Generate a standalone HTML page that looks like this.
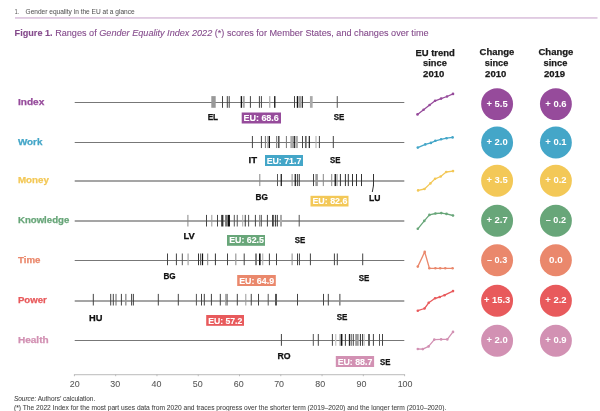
<!DOCTYPE html><html><head><meta charset="utf-8"><title>Gender Equality Index 2022</title><style>
html,body{margin:0;padding:0;background:#fff;width:600px;height:411px;overflow:hidden}
svg{display:block;font-family:"Liberation Sans", sans-serif;will-change:transform}
</style></head><body>
<svg width="600" height="411" viewBox="0 0 600 411">
<text x="14.74" y="14.30" font-size="6.6" stroke="#555" stroke-width="0.05" fill="#555" textLength="4.23" lengthAdjust="spacingAndGlyphs" >1.</text>
<text x="25.54" y="14.30" font-size="6.6" stroke="#555" stroke-width="0.05" fill="#555" textLength="109.13" lengthAdjust="spacingAndGlyphs" >Gender equality in the EU at a glance</text>
<rect x="15" y="17.35" width="582.5" height="1.2" fill="#cfaed2"/>
<text x="14.6" y="35.7" font-size="8.8" fill="#844a8b" stroke="#844a8b" stroke-width="0.1" textLength="414" lengthAdjust="spacingAndGlyphs"><tspan font-weight="bold">Figure 1.</tspan> Ranges of <tspan font-style="italic">Gender Equality Index 2022</tspan> (*) scores for Member States, and changes over time</text>
<text x="415.44" y="55.50" font-size="9.0" font-weight="bold" stroke="#1a1a1a" stroke-width="0.25" fill="#1a1a1a" textLength="39.42" lengthAdjust="spacingAndGlyphs" >EU trend</text>
<text x="423.14" y="66.00" font-size="9.0" font-weight="bold" stroke="#1a1a1a" stroke-width="0.25" fill="#1a1a1a" textLength="23.72" lengthAdjust="spacingAndGlyphs" >since</text>
<text x="423.14" y="76.50" font-size="9.0" font-weight="bold" stroke="#1a1a1a" stroke-width="0.25" fill="#1a1a1a" textLength="21.22" lengthAdjust="spacingAndGlyphs" >2010</text>
<text x="479.64" y="55.30" font-size="9.0" font-weight="bold" stroke="#1a1a1a" stroke-width="0.25" fill="#1a1a1a" textLength="34.72" lengthAdjust="spacingAndGlyphs" >Change</text>
<text x="484.84" y="66.00" font-size="9.0" font-weight="bold" stroke="#1a1a1a" stroke-width="0.25" fill="#1a1a1a" textLength="23.52" lengthAdjust="spacingAndGlyphs" >since</text>
<text x="485.14" y="76.70" font-size="9.0" font-weight="bold" stroke="#1a1a1a" stroke-width="0.25" fill="#1a1a1a" textLength="21.22" lengthAdjust="spacingAndGlyphs" >2010</text>
<text x="538.44" y="55.30" font-size="9.0" font-weight="bold" stroke="#1a1a1a" stroke-width="0.25" fill="#1a1a1a" textLength="34.92" lengthAdjust="spacingAndGlyphs" >Change</text>
<text x="543.64" y="66.00" font-size="9.0" font-weight="bold" stroke="#1a1a1a" stroke-width="0.25" fill="#1a1a1a" textLength="23.72" lengthAdjust="spacingAndGlyphs" >since</text>
<text x="543.94" y="76.70" font-size="9.0" font-weight="bold" stroke="#1a1a1a" stroke-width="0.25" fill="#1a1a1a" textLength="21.22" lengthAdjust="spacingAndGlyphs" >2019</text>
<text x="17.94" y="104.60" font-size="9.0" font-weight="bold" stroke="#964b9b" stroke-width="0.25" fill="#964b9b" textLength="26.42" lengthAdjust="spacingAndGlyphs" >Index</text>
<rect x="74.7" y="102.00" width="329.6" height="1" fill="#777777"/>
<rect x="211.30" y="96.10" width="4.40" height="11.70" fill="#999"/>
<rect x="222.00" y="96.10" width="1.00" height="11.70" fill="#444"/>
<rect x="226.80" y="96.10" width="1.00" height="11.70" fill="#444"/>
<rect x="228.70" y="96.10" width="1.00" height="11.70" fill="#444"/>
<rect x="240.70" y="96.10" width="1.40" height="11.70" fill="#111"/>
<rect x="243.15" y="96.10" width="1.50" height="11.70" fill="#999"/>
<rect x="249.90" y="96.10" width="1.00" height="11.70" fill="#444"/>
<rect x="258.90" y="96.10" width="1.00" height="11.70" fill="#444"/>
<rect x="260.90" y="96.10" width="1.00" height="11.70" fill="#444"/>
<rect x="269.15" y="96.10" width="1.20" height="11.70" fill="#aaa"/>
<rect x="274.05" y="96.10" width="1.40" height="11.70" fill="#222"/>
<rect x="294.00" y="96.10" width="1.00" height="11.70" fill="#444"/>
<rect x="296.80" y="96.10" width="1.20" height="11.70" fill="#111"/>
<rect x="298.30" y="96.10" width="3.40" height="11.70" fill="#a0a0a0"/>
<rect x="302.00" y="96.10" width="1.00" height="11.70" fill="#333"/>
<rect x="309.95" y="96.10" width="2.70" height="11.70" fill="#aaa"/>
<rect x="336.75" y="96.10" width="1.00" height="11.70" fill="#555"/>
<text x="207.64" y="119.80" font-size="9.0" font-weight="bold" stroke="#111" stroke-width="0.25" fill="#111" textLength="10.52" lengthAdjust="spacingAndGlyphs" >EL</text>
<text x="333.64" y="119.50" font-size="9.0" font-weight="bold" stroke="#111" stroke-width="0.25" fill="#111" textLength="10.62" lengthAdjust="spacingAndGlyphs" >SE</text>
<rect x="241.7" y="112.5" width="39.30" height="11.00" fill="#964b9b"/>
<text x="243.44" y="121.00" font-size="9.0" font-weight="bold" stroke="#fff" stroke-width="0.1" fill="#fff" textLength="35.42" lengthAdjust="spacingAndGlyphs" >EU: 68.6</text>
<polyline points="417.5,114.4 423.6,109.7 429.6,105.0 435.1,100.8 441.1,98.6 447.0,96.5 453.0,93.9" fill="none" stroke="#964b9b" stroke-width="1.3" stroke-linejoin="round" stroke-linecap="round"/>
<circle cx="417.5" cy="114.4" r="1.3" fill="#964b9b"/>
<circle cx="423.6" cy="109.7" r="1.3" fill="#964b9b"/>
<circle cx="429.6" cy="105.0" r="1.3" fill="#964b9b"/>
<circle cx="435.1" cy="100.8" r="1.3" fill="#964b9b"/>
<circle cx="441.1" cy="98.6" r="1.3" fill="#964b9b"/>
<circle cx="447.0" cy="96.5" r="1.3" fill="#964b9b"/>
<circle cx="453.0" cy="93.9" r="1.3" fill="#964b9b"/>
<circle cx="497.1" cy="104.1" r="15.95" fill="#964b9b"/>
<text x="486.45" y="106.60" font-size="8.8" font-weight="bold" fill="#fff" textLength="21.30" lengthAdjust="spacingAndGlyphs" >+ 5.5</text>
<circle cx="555.9" cy="104.1" r="15.95" fill="#964b9b"/>
<text x="545.25" y="106.60" font-size="8.8" font-weight="bold" fill="#fff" textLength="21.30" lengthAdjust="spacingAndGlyphs" >+ 0.6</text>
<text x="17.94" y="144.60" font-size="9.0" font-weight="bold" stroke="#44a6c8" stroke-width="0.25" fill="#44a6c8" textLength="24.52" lengthAdjust="spacingAndGlyphs" >Work</text>
<rect x="74.7" y="142.00" width="329.6" height="1" fill="#777777"/>
<rect x="251.90" y="136.00" width="1.00" height="12.05" fill="#444"/>
<rect x="260.90" y="136.00" width="1.00" height="12.05" fill="#444"/>
<rect x="264.90" y="136.00" width="1.00" height="12.05" fill="#777"/>
<rect x="266.95" y="136.00" width="1.30" height="12.05" fill="#bbb"/>
<rect x="268.65" y="136.00" width="1.30" height="12.05" fill="#111"/>
<rect x="276.00" y="136.00" width="1.00" height="12.05" fill="#888"/>
<rect x="277.85" y="136.00" width="1.70" height="12.05" fill="#555"/>
<rect x="285.90" y="136.00" width="1.00" height="12.05" fill="#777"/>
<rect x="290.35" y="136.00" width="2.90" height="12.05" fill="#aaa"/>
<rect x="293.65" y="136.00" width="1.20" height="12.05" fill="#111"/>
<rect x="295.30" y="136.00" width="2.60" height="12.05" fill="#aaa"/>
<rect x="302.00" y="136.00" width="1.00" height="12.05" fill="#444"/>
<rect x="304.95" y="136.00" width="1.70" height="12.05" fill="#666"/>
<rect x="308.75" y="136.00" width="1.10" height="12.05" fill="#111"/>
<rect x="315.50" y="136.00" width="1.00" height="12.05" fill="#aaa"/>
<rect x="318.90" y="136.00" width="1.00" height="12.05" fill="#444"/>
<rect x="332.80" y="136.00" width="1.00" height="12.05" fill="#444"/>
<text x="248.64" y="163.30" font-size="9.0" font-weight="bold" stroke="#111" stroke-width="0.25" fill="#111" textLength="8.52" lengthAdjust="spacingAndGlyphs" >IT</text>
<text x="329.94" y="163.00" font-size="9.0" font-weight="bold" stroke="#111" stroke-width="0.25" fill="#111" textLength="10.42" lengthAdjust="spacingAndGlyphs" >SE</text>
<rect x="265.0" y="155.0" width="38.00" height="11.00" fill="#44a6c8"/>
<text x="266.64" y="163.80" font-size="9.0" font-weight="bold" stroke="#fff" stroke-width="0.1" fill="#fff" textLength="34.72" lengthAdjust="spacingAndGlyphs" >EU: 71.7</text>
<polyline points="417.8,147.6 425.3,144.4 430.9,142.9 435.4,140.8 441.1,139.3 446.5,138.2 452.6,137.4" fill="none" stroke="#44a6c8" stroke-width="1.3" stroke-linejoin="round" stroke-linecap="round"/>
<circle cx="417.8" cy="147.6" r="1.3" fill="#44a6c8"/>
<circle cx="425.3" cy="144.4" r="1.3" fill="#44a6c8"/>
<circle cx="430.9" cy="142.9" r="1.3" fill="#44a6c8"/>
<circle cx="435.4" cy="140.8" r="1.3" fill="#44a6c8"/>
<circle cx="441.1" cy="139.3" r="1.3" fill="#44a6c8"/>
<circle cx="446.5" cy="138.2" r="1.3" fill="#44a6c8"/>
<circle cx="452.6" cy="137.4" r="1.3" fill="#44a6c8"/>
<circle cx="497.1" cy="142.5" r="15.95" fill="#44a6c8"/>
<text x="486.45" y="145.00" font-size="8.8" font-weight="bold" fill="#fff" textLength="21.30" lengthAdjust="spacingAndGlyphs" >+ 2.0</text>
<circle cx="555.9" cy="142.5" r="15.95" fill="#44a6c8"/>
<text x="545.25" y="145.00" font-size="8.8" font-weight="bold" fill="#fff" textLength="21.30" lengthAdjust="spacingAndGlyphs" >+ 0.1</text>
<text x="17.94" y="183.10" font-size="9.0" font-weight="bold" stroke="#f3c857" stroke-width="0.25" fill="#f3c857" textLength="30.92" lengthAdjust="spacingAndGlyphs" >Money</text>
<rect x="74.7" y="180.50" width="329.6" height="1" fill="#4d4d4d"/>
<rect x="259.30" y="174.00" width="1.00" height="12.05" fill="#888"/>
<rect x="277.00" y="174.00" width="1.00" height="12.05" fill="#555"/>
<rect x="280.65" y="174.00" width="1.20" height="12.05" fill="#111"/>
<rect x="291.60" y="174.00" width="1.00" height="12.05" fill="#888"/>
<rect x="294.65" y="174.00" width="1.20" height="12.05" fill="#111"/>
<rect x="296.90" y="174.00" width="1.00" height="12.05" fill="#444"/>
<rect x="298.75" y="174.00" width="1.00" height="12.05" fill="#333"/>
<rect x="313.00" y="174.00" width="1.00" height="12.05" fill="#444"/>
<rect x="315.35" y="174.00" width="2.50" height="12.05" fill="#999"/>
<rect x="322.80" y="174.00" width="1.00" height="12.05" fill="#888"/>
<rect x="331.20" y="174.00" width="1.00" height="12.05" fill="#888"/>
<rect x="334.60" y="174.00" width="1.30" height="12.05" fill="#111"/>
<rect x="336.50" y="174.00" width="1.00" height="12.05" fill="#888"/>
<rect x="339.90" y="174.00" width="1.00" height="12.05" fill="#333"/>
<rect x="344.90" y="174.00" width="1.00" height="12.05" fill="#333"/>
<rect x="347.80" y="174.00" width="1.00" height="12.05" fill="#333"/>
<rect x="352.00" y="174.00" width="1.00" height="12.05" fill="#333"/>
<rect x="356.00" y="174.00" width="1.00" height="12.05" fill="#333"/>
<rect x="361.00" y="174.00" width="1.00" height="12.05" fill="#333"/>
<rect x="373.00" y="174.00" width="1.00" height="12.05" fill="#333"/>
<text x="255.44" y="199.70" font-size="9.0" font-weight="bold" stroke="#111" stroke-width="0.25" fill="#111" textLength="12.42" lengthAdjust="spacingAndGlyphs" >BG</text>
<text x="368.94" y="200.90" font-size="9.0" font-weight="bold" stroke="#111" stroke-width="0.25" fill="#111" textLength="11.42" lengthAdjust="spacingAndGlyphs" >LU</text>
<rect x="310.5" y="195.8" width="38.00" height="10.70" fill="#f3c857"/>
<text x="312.44" y="204.00" font-size="9.0" font-weight="bold" stroke="#fff" stroke-width="0.1" fill="#fff" textLength="34.92" lengthAdjust="spacingAndGlyphs" >EU: 82.6</text>
<polyline points="418.1,190.4 424.5,189.0 430.4,183.4 435.1,178.8 440.7,176.5 446.2,172.0 453.0,171.1" fill="none" stroke="#f3c857" stroke-width="1.3" stroke-linejoin="round" stroke-linecap="round"/>
<circle cx="418.1" cy="190.4" r="1.3" fill="#f3c857"/>
<circle cx="424.5" cy="189.0" r="1.3" fill="#f3c857"/>
<circle cx="430.4" cy="183.4" r="1.3" fill="#f3c857"/>
<circle cx="435.1" cy="178.8" r="1.3" fill="#f3c857"/>
<circle cx="440.7" cy="176.5" r="1.3" fill="#f3c857"/>
<circle cx="446.2" cy="172.0" r="1.3" fill="#f3c857"/>
<circle cx="453.0" cy="171.1" r="1.3" fill="#f3c857"/>
<circle cx="497.1" cy="180.7" r="15.95" fill="#f3c857"/>
<text x="486.45" y="183.20" font-size="8.8" font-weight="bold" fill="#fff" textLength="21.30" lengthAdjust="spacingAndGlyphs" >+ 3.5</text>
<circle cx="555.9" cy="180.7" r="15.95" fill="#f3c857"/>
<text x="545.25" y="183.20" font-size="8.8" font-weight="bold" fill="#fff" textLength="21.30" lengthAdjust="spacingAndGlyphs" >+ 0.2</text>
<text x="17.94" y="222.90" font-size="9.0" font-weight="bold" stroke="#68a679" stroke-width="0.25" fill="#68a679" textLength="51.32" lengthAdjust="spacingAndGlyphs" >Knowledge</text>
<rect x="74.7" y="220.50" width="329.6" height="1" fill="#4d4d4d"/>
<rect x="187.40" y="214.90" width="1.00" height="11.60" fill="#888"/>
<rect x="206.00" y="214.90" width="1.00" height="11.60" fill="#444"/>
<rect x="211.30" y="214.90" width="1.00" height="11.60" fill="#999"/>
<rect x="217.00" y="214.90" width="1.00" height="11.60" fill="#444"/>
<rect x="221.20" y="214.90" width="2.20" height="11.60" fill="#333"/>
<rect x="225.10" y="214.90" width="2.60" height="11.60" fill="#777"/>
<rect x="227.85" y="214.90" width="2.10" height="11.60" fill="#111"/>
<rect x="233.80" y="214.90" width="1.00" height="11.60" fill="#555"/>
<rect x="236.75" y="214.90" width="1.00" height="11.60" fill="#555"/>
<rect x="242.20" y="214.90" width="1.00" height="11.60" fill="#aaa"/>
<rect x="244.75" y="214.90" width="1.00" height="11.60" fill="#333"/>
<rect x="248.10" y="214.90" width="1.00" height="11.60" fill="#555"/>
<rect x="254.90" y="214.90" width="1.00" height="11.60" fill="#444"/>
<rect x="259.10" y="214.90" width="1.00" height="11.60" fill="#888"/>
<rect x="260.75" y="214.90" width="1.00" height="11.60" fill="#444"/>
<rect x="266.90" y="214.90" width="1.00" height="11.60" fill="#444"/>
<rect x="272.00" y="214.90" width="1.80" height="11.60" fill="#444"/>
<rect x="274.90" y="214.90" width="1.00" height="11.60" fill="#333"/>
<rect x="276.80" y="214.90" width="1.00" height="11.60" fill="#333"/>
<rect x="280.00" y="214.90" width="2.00" height="11.60" fill="#aaa"/>
<rect x="298.70" y="214.90" width="1.00" height="11.60" fill="#555"/>
<text x="183.64" y="238.70" font-size="9.0" font-weight="bold" stroke="#111" stroke-width="0.25" fill="#111" textLength="11.22" lengthAdjust="spacingAndGlyphs" >LV</text>
<text x="294.84" y="242.90" font-size="9.0" font-weight="bold" stroke="#111" stroke-width="0.25" fill="#111" textLength="10.52" lengthAdjust="spacingAndGlyphs" >SE</text>
<rect x="227.0" y="235.0" width="38.00" height="10.80" fill="#68a679"/>
<text x="229.14" y="242.80" font-size="9.0" font-weight="bold" stroke="#fff" stroke-width="0.1" fill="#fff" textLength="34.82" lengthAdjust="spacingAndGlyphs" >EU: 62.5</text>
<polyline points="417.8,228.8 424.3,220.9 429.4,214.9 435.4,213.5 441.3,213.1 446.5,213.9 453.0,215.5" fill="none" stroke="#68a679" stroke-width="1.3" stroke-linejoin="round" stroke-linecap="round"/>
<circle cx="417.8" cy="228.8" r="1.3" fill="#68a679"/>
<circle cx="424.3" cy="220.9" r="1.3" fill="#68a679"/>
<circle cx="429.4" cy="214.9" r="1.3" fill="#68a679"/>
<circle cx="435.4" cy="213.5" r="1.3" fill="#68a679"/>
<circle cx="441.3" cy="213.1" r="1.3" fill="#68a679"/>
<circle cx="446.5" cy="213.9" r="1.3" fill="#68a679"/>
<circle cx="453.0" cy="215.5" r="1.3" fill="#68a679"/>
<circle cx="497.1" cy="220.7" r="15.95" fill="#68a679"/>
<text x="486.45" y="223.20" font-size="8.8" font-weight="bold" fill="#fff" textLength="21.30" lengthAdjust="spacingAndGlyphs" >+ 2.7</text>
<circle cx="555.9" cy="220.7" r="15.95" fill="#68a679"/>
<text x="545.80" y="223.20" font-size="8.8" font-weight="bold" fill="#fff" textLength="20.20" lengthAdjust="spacingAndGlyphs" >– 0.2</text>
<text x="17.94" y="262.60" font-size="9.0" font-weight="bold" stroke="#ea886c" stroke-width="0.25" fill="#ea886c" textLength="22.52" lengthAdjust="spacingAndGlyphs" >Time</text>
<rect x="74.7" y="260.00" width="329.6" height="1" fill="#777777"/>
<rect x="167.00" y="253.50" width="1.00" height="11.70" fill="#444"/>
<rect x="175.90" y="253.50" width="1.00" height="11.70" fill="#444"/>
<rect x="181.80" y="253.50" width="1.00" height="11.70" fill="#555"/>
<rect x="187.45" y="253.50" width="1.30" height="11.70" fill="#aaa"/>
<rect x="198.00" y="253.50" width="1.00" height="11.70" fill="#333"/>
<rect x="200.10" y="253.50" width="1.00" height="11.70" fill="#555"/>
<rect x="201.90" y="253.50" width="1.20" height="11.70" fill="#111"/>
<rect x="207.20" y="253.50" width="1.00" height="11.70" fill="#888"/>
<rect x="214.90" y="253.50" width="1.00" height="11.70" fill="#333"/>
<rect x="227.00" y="253.50" width="1.00" height="11.70" fill="#444"/>
<rect x="235.20" y="253.50" width="1.20" height="11.70" fill="#999"/>
<rect x="243.70" y="253.50" width="1.00" height="11.70" fill="#444"/>
<rect x="255.20" y="253.50" width="1.60" height="11.70" fill="#666"/>
<rect x="259.00" y="253.50" width="1.60" height="11.70" fill="#111"/>
<rect x="262.25" y="253.50" width="1.00" height="11.70" fill="#aaa"/>
<rect x="268.90" y="253.50" width="1.00" height="11.70" fill="#444"/>
<rect x="276.00" y="253.50" width="1.00" height="11.70" fill="#444"/>
<rect x="291.60" y="253.50" width="1.00" height="11.70" fill="#888"/>
<rect x="297.00" y="253.50" width="1.00" height="11.70" fill="#444"/>
<rect x="298.90" y="253.50" width="1.00" height="11.70" fill="#444"/>
<rect x="309.90" y="253.50" width="1.00" height="11.70" fill="#444"/>
<rect x="333.90" y="253.50" width="1.00" height="11.70" fill="#444"/>
<rect x="336.80" y="253.50" width="1.00" height="11.70" fill="#444"/>
<rect x="362.20" y="253.50" width="1.00" height="11.70" fill="#444"/>
<text x="163.44" y="278.80" font-size="9.0" font-weight="bold" stroke="#111" stroke-width="0.25" fill="#111" textLength="12.22" lengthAdjust="spacingAndGlyphs" >BG</text>
<text x="358.64" y="281.00" font-size="9.0" font-weight="bold" stroke="#111" stroke-width="0.25" fill="#111" textLength="10.62" lengthAdjust="spacingAndGlyphs" >SE</text>
<rect x="237.2" y="275.0" width="38.60" height="11.00" fill="#ea886c"/>
<text x="239.14" y="283.50" font-size="9.0" font-weight="bold" stroke="#fff" stroke-width="0.1" fill="#fff" textLength="35.02" lengthAdjust="spacingAndGlyphs" >EU: 64.9</text>
<polyline points="417.8,266.6 424.7,251.9 429.4,268.3 435.4,268.3 440.2,268.3 445.3,268.3 452.6,268.3" fill="none" stroke="#ea886c" stroke-width="1.3" stroke-linejoin="round" stroke-linecap="round"/>
<circle cx="417.8" cy="266.6" r="1.3" fill="#ea886c"/>
<circle cx="424.7" cy="251.9" r="1.3" fill="#ea886c"/>
<circle cx="429.4" cy="268.3" r="1.3" fill="#ea886c"/>
<circle cx="435.4" cy="268.3" r="1.3" fill="#ea886c"/>
<circle cx="440.2" cy="268.3" r="1.3" fill="#ea886c"/>
<circle cx="445.3" cy="268.3" r="1.3" fill="#ea886c"/>
<circle cx="452.6" cy="268.3" r="1.3" fill="#ea886c"/>
<circle cx="497.1" cy="260.2" r="15.95" fill="#ea886c"/>
<text x="487.00" y="262.70" font-size="8.8" font-weight="bold" fill="#fff" textLength="20.20" lengthAdjust="spacingAndGlyphs" >– 0.3</text>
<circle cx="555.9" cy="260.2" r="15.95" fill="#ea886c"/>
<text x="549.05" y="262.70" font-size="8.8" font-weight="bold" fill="#fff" textLength="13.70" lengthAdjust="spacingAndGlyphs" >0.0</text>
<text x="17.94" y="303.00" font-size="9.0" font-weight="bold" stroke="#e85a5c" stroke-width="0.25" fill="#e85a5c" textLength="28.82" lengthAdjust="spacingAndGlyphs" >Power</text>
<rect x="74.7" y="300.50" width="329.6" height="1" fill="#4d4d4d"/>
<rect x="92.80" y="293.90" width="1.00" height="11.60" fill="#444"/>
<rect x="110.20" y="293.90" width="1.00" height="11.60" fill="#444"/>
<rect x="112.80" y="293.90" width="1.00" height="11.60" fill="#444"/>
<rect x="115.50" y="293.90" width="1.00" height="11.60" fill="#666"/>
<rect x="120.90" y="293.90" width="1.00" height="11.60" fill="#444"/>
<rect x="125.05" y="293.90" width="1.50" height="11.60" fill="#999"/>
<rect x="131.00" y="293.90" width="1.00" height="11.60" fill="#555"/>
<rect x="132.80" y="293.90" width="1.00" height="11.60" fill="#333"/>
<rect x="157.80" y="293.90" width="1.00" height="11.60" fill="#444"/>
<rect x="177.80" y="293.90" width="1.00" height="11.60" fill="#444"/>
<rect x="195.90" y="293.90" width="1.00" height="11.60" fill="#555"/>
<rect x="201.00" y="293.90" width="1.00" height="11.60" fill="#444"/>
<rect x="203.80" y="293.90" width="1.00" height="11.60" fill="#444"/>
<rect x="210.90" y="293.90" width="1.00" height="11.60" fill="#444"/>
<rect x="219.80" y="293.90" width="1.00" height="11.60" fill="#444"/>
<rect x="225.20" y="293.90" width="1.20" height="11.60" fill="#999"/>
<rect x="226.60" y="293.90" width="1.00" height="11.60" fill="#555"/>
<rect x="236.80" y="293.90" width="1.00" height="11.60" fill="#444"/>
<rect x="245.30" y="293.90" width="1.00" height="11.60" fill="#999"/>
<rect x="250.75" y="293.90" width="1.00" height="11.60" fill="#444"/>
<rect x="258.00" y="293.90" width="1.00" height="11.60" fill="#444"/>
<rect x="267.70" y="293.90" width="1.00" height="11.60" fill="#555"/>
<rect x="275.00" y="293.90" width="2.00" height="11.60" fill="#555"/>
<rect x="297.00" y="293.90" width="1.00" height="11.60" fill="#444"/>
<rect x="323.00" y="293.90" width="1.00" height="11.60" fill="#444"/>
<rect x="327.80" y="293.90" width="1.00" height="11.60" fill="#444"/>
<rect x="339.00" y="293.90" width="1.60" height="11.60" fill="#888"/>
<text x="88.94" y="320.90" font-size="9.0" font-weight="bold" stroke="#111" stroke-width="0.25" fill="#111" textLength="13.42" lengthAdjust="spacingAndGlyphs" >HU</text>
<text x="336.64" y="319.70" font-size="9.0" font-weight="bold" stroke="#111" stroke-width="0.25" fill="#111" textLength="10.72" lengthAdjust="spacingAndGlyphs" >SE</text>
<rect x="206.2" y="315.0" width="37.80" height="10.80" fill="#e85a5c"/>
<text x="208.14" y="323.50" font-size="9.0" font-weight="bold" stroke="#fff" stroke-width="0.1" fill="#fff" textLength="34.22" lengthAdjust="spacingAndGlyphs" >EU: 57.2</text>
<polyline points="417.8,310.7 424.5,308.5 428.7,302.8 435.1,298.3 439.8,297.0 444.5,295.2 453.0,291.1" fill="none" stroke="#e85a5c" stroke-width="1.3" stroke-linejoin="round" stroke-linecap="round"/>
<circle cx="417.8" cy="310.7" r="1.3" fill="#e85a5c"/>
<circle cx="424.5" cy="308.5" r="1.3" fill="#e85a5c"/>
<circle cx="428.7" cy="302.8" r="1.3" fill="#e85a5c"/>
<circle cx="435.1" cy="298.3" r="1.3" fill="#e85a5c"/>
<circle cx="439.8" cy="297.0" r="1.3" fill="#e85a5c"/>
<circle cx="444.5" cy="295.2" r="1.3" fill="#e85a5c"/>
<circle cx="453.0" cy="291.1" r="1.3" fill="#e85a5c"/>
<circle cx="497.1" cy="300.7" r="15.95" fill="#e85a5c"/>
<text x="483.90" y="303.20" font-size="8.8" font-weight="bold" fill="#fff" textLength="26.40" lengthAdjust="spacingAndGlyphs" >+ 15.3</text>
<circle cx="555.9" cy="300.7" r="15.95" fill="#e85a5c"/>
<text x="545.25" y="303.20" font-size="8.8" font-weight="bold" fill="#fff" textLength="21.30" lengthAdjust="spacingAndGlyphs" >+ 2.2</text>
<text x="17.94" y="342.75" font-size="9.0" font-weight="bold" stroke="#d291b3" stroke-width="0.25" fill="#d291b3" textLength="30.72" lengthAdjust="spacingAndGlyphs" >Health</text>
<rect x="74.7" y="340.00" width="329.6" height="1" fill="#777777"/>
<rect x="280.90" y="334.00" width="1.00" height="11.80" fill="#444"/>
<rect x="312.80" y="334.00" width="1.00" height="11.80" fill="#555"/>
<rect x="317.80" y="334.00" width="1.00" height="11.80" fill="#444"/>
<rect x="331.90" y="334.00" width="1.00" height="11.80" fill="#444"/>
<rect x="335.00" y="334.00" width="1.40" height="11.80" fill="#ccc"/>
<rect x="339.50" y="334.00" width="1.00" height="11.80" fill="#999"/>
<rect x="340.80" y="334.00" width="1.60" height="11.80" fill="#111"/>
<rect x="344.90" y="334.00" width="1.00" height="11.80" fill="#444"/>
<rect x="348.85" y="334.00" width="1.30" height="11.80" fill="#222"/>
<rect x="350.80" y="334.00" width="1.00" height="11.80" fill="#666"/>
<rect x="352.80" y="334.00" width="1.00" height="11.80" fill="#444"/>
<rect x="355.20" y="334.00" width="3.50" height="11.80" fill="#999"/>
<rect x="359.90" y="334.00" width="1.00" height="11.80" fill="#333"/>
<rect x="362.10" y="334.00" width="1.00" height="11.80" fill="#333"/>
<rect x="363.70" y="334.00" width="1.00" height="11.80" fill="#bbb"/>
<rect x="368.10" y="334.00" width="1.80" height="11.80" fill="#555"/>
<rect x="372.90" y="334.00" width="1.00" height="11.80" fill="#444"/>
<rect x="379.00" y="334.00" width="1.00" height="11.80" fill="#555"/>
<rect x="382.00" y="334.00" width="1.00" height="11.80" fill="#444"/>
<text x="277.54" y="359.00" font-size="9.0" font-weight="bold" stroke="#111" stroke-width="0.25" fill="#111" textLength="13.12" lengthAdjust="spacingAndGlyphs" >RO</text>
<text x="380.04" y="364.60" font-size="9.0" font-weight="bold" stroke="#111" stroke-width="0.25" fill="#111" textLength="10.42" lengthAdjust="spacingAndGlyphs" >SE</text>
<rect x="335.8" y="356.0" width="38.30" height="11.00" fill="#d291b3"/>
<text x="337.64" y="364.60" font-size="9.0" font-weight="bold" stroke="#fff" stroke-width="0.1" fill="#fff" textLength="34.72" lengthAdjust="spacingAndGlyphs" >EU: 88.7</text>
<polyline points="417.8,349.0 422.8,349.1 428.6,346.4 434.3,339.6 441.1,339.4 447.3,339.4 453.0,331.9" fill="none" stroke="#d291b3" stroke-width="1.3" stroke-linejoin="round" stroke-linecap="round"/>
<circle cx="417.8" cy="349.0" r="1.3" fill="#d291b3"/>
<circle cx="422.8" cy="349.1" r="1.3" fill="#d291b3"/>
<circle cx="428.6" cy="346.4" r="1.3" fill="#d291b3"/>
<circle cx="434.3" cy="339.6" r="1.3" fill="#d291b3"/>
<circle cx="441.1" cy="339.4" r="1.3" fill="#d291b3"/>
<circle cx="447.3" cy="339.4" r="1.3" fill="#d291b3"/>
<circle cx="453.0" cy="331.9" r="1.3" fill="#d291b3"/>
<circle cx="497.1" cy="340.7" r="15.95" fill="#d291b3"/>
<text x="486.45" y="343.20" font-size="8.8" font-weight="bold" fill="#fff" textLength="21.30" lengthAdjust="spacingAndGlyphs" >+ 2.0</text>
<circle cx="555.9" cy="340.7" r="15.95" fill="#d291b3"/>
<text x="545.25" y="343.20" font-size="8.8" font-weight="bold" fill="#fff" textLength="21.30" lengthAdjust="spacingAndGlyphs" >+ 0.9</text>
<path d="M373.5 183 L373.4 186 L372.3 192" fill="none" stroke="#333" stroke-width="1"/>
<rect x="74.3" y="374.2" width="330.4" height="1" fill="#bbb"/>
<rect x="73.90" y="374.2" width="1" height="2" fill="#bbb"/>
<text x="74.70" y="386.7" font-size="8.9" fill="#555" stroke="#555" stroke-width="0.06" text-anchor="middle">20</text>
<rect x="115.18" y="374.2" width="1" height="2" fill="#bbb"/>
<text x="115.30" y="386.7" font-size="8.9" fill="#555" stroke="#555" stroke-width="0.06" text-anchor="middle">30</text>
<rect x="156.45" y="374.2" width="1" height="2" fill="#bbb"/>
<text x="156.40" y="386.7" font-size="8.9" fill="#555" stroke="#555" stroke-width="0.06" text-anchor="middle">40</text>
<rect x="197.73" y="374.2" width="1" height="2" fill="#bbb"/>
<text x="197.70" y="386.7" font-size="8.9" fill="#555" stroke="#555" stroke-width="0.06" text-anchor="middle">50</text>
<rect x="239.00" y="374.2" width="1" height="2" fill="#bbb"/>
<text x="238.70" y="386.7" font-size="8.9" fill="#555" stroke="#555" stroke-width="0.06" text-anchor="middle">60</text>
<rect x="280.28" y="374.2" width="1" height="2" fill="#bbb"/>
<text x="279.10" y="386.7" font-size="8.9" fill="#555" stroke="#555" stroke-width="0.06" text-anchor="middle">70</text>
<rect x="321.55" y="374.2" width="1" height="2" fill="#bbb"/>
<text x="320.20" y="386.7" font-size="8.9" fill="#555" stroke="#555" stroke-width="0.06" text-anchor="middle">80</text>
<rect x="362.83" y="374.2" width="1" height="2" fill="#bbb"/>
<text x="361.40" y="386.7" font-size="8.9" fill="#555" stroke="#555" stroke-width="0.06" text-anchor="middle">90</text>
<rect x="404.10" y="374.2" width="1" height="2" fill="#bbb"/>
<text x="405.10" y="386.7" font-size="8.9" fill="#555" stroke="#555" stroke-width="0.06" text-anchor="middle">100</text>
<text x="13.95" y="400.70" font-size="6.3" stroke="#444" stroke-width="0.06" fill="#444" textLength="81.30" lengthAdjust="spacingAndGlyphs" ><tspan font-style="italic">Source:</tspan> Authors’ calculation.</text>
<text x="13.95" y="409.50" font-size="6.3" stroke="#444" stroke-width="0.06" fill="#444" textLength="432.30" lengthAdjust="spacingAndGlyphs" >(*) The 2022 Index for the most part uses data from 2020 and traces progress over the shorter term (2019–2020) and the longer term (2010–2020).</text>
</svg></body></html>
